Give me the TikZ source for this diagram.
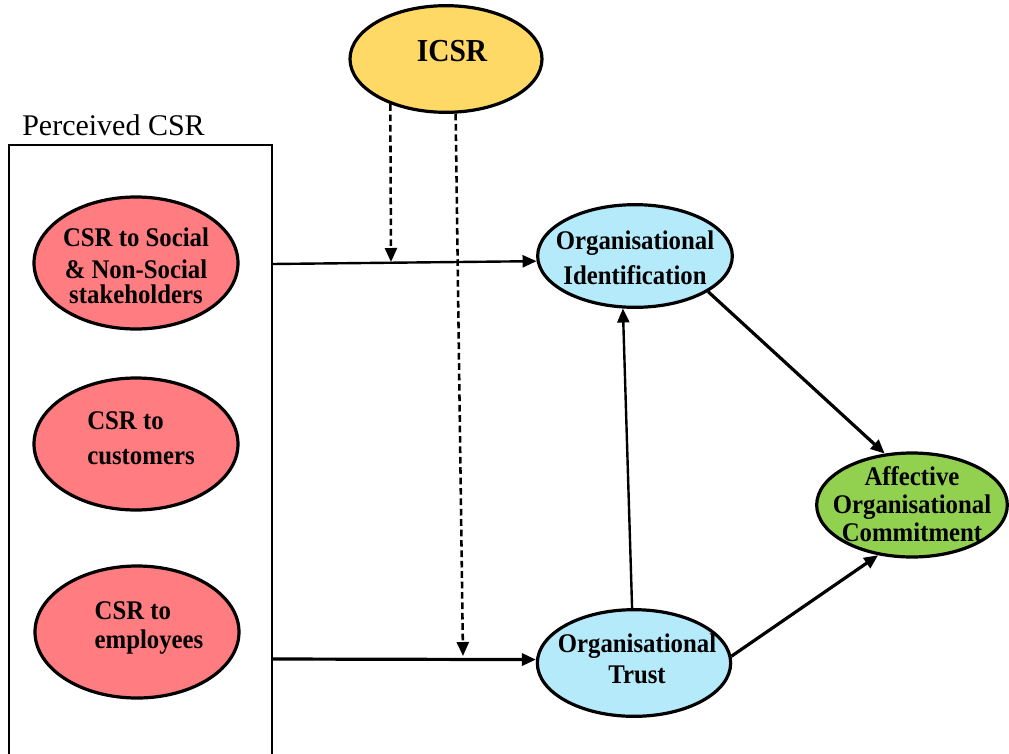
\documentclass[tikz,border=0pt]{standalone}
\usepackage{fontspec}
\setmainfont{Liberation Serif}
\newfontfamily\ovalfont{Liberation Serif}[FakeStretch=0.92]
\usetikzlibrary{arrows.meta,shapes.geometric}
\definecolor{icsrfill}{HTML}{FFD966}
\definecolor{csrfill}{HTML}{FF7C80}
\definecolor{orgfill}{HTML}{B5EAFB}
\definecolor{affill}{HTML}{92D050}
\begin{document}
\begin{tikzpicture}[x=0.75pt,y=-0.75pt,
  oval/.style={ellipse, draw, line width=2.4pt, inner sep=0pt},
  csroval/.style={oval, fill=csrfill, minimum width=153pt, minimum height=99pt},
  orgoval/.style={oval, fill=orgfill},
  lbl/.style={font=\ovalfont\bfseries\fontsize{20.2}{22}\selectfont, align=center, inner sep=0pt},
  link/.style={line width=1.8pt, -{Triangle[length=10.5pt,width=9pt]}},
  thicklink/.style={link, line width=2.4pt},
  modlink/.style={line width=1.9pt, dash pattern=on 5pt off 2.8pt,
                  -{Triangle[length=10.5pt,width=9pt]}},
]
\useasboundingbox (0,0) rectangle (1009,753);

% moderator
\node[oval, fill=icsrfill, minimum width=144pt, minimum height=80pt] (icsr) at (446,59) {};
\node[lbl, font=\ovalfont\bfseries\fontsize{24}{28}\selectfont] (icsr-t) at (452,51) {ICSR};

% perceived CSR group
\node[anchor=base west, inner sep=0pt, font=\fontsize{22.5}{27}\selectfont] (pcsr-t) at (22,135) {Perceived CSR};
\draw[line width=1.5pt] (9,756) -- (9,145) -- (272,145) -- (272,756);
\coordinate (g1) at (272,264);
\coordinate (g2) at (272,659);

\node[csroval] (soc) at (136,263) {};
\node[lbl] (soc-t) at (136,266) {CSR to Social\\[2pt]\& Non-Social\\[-3pt]stakeholders};

\node[csroval] (cus) at (136,444) {};
\node[lbl, align=left] (cus-t) at (141,438) {CSR to\\[4pt]customers};

\node[csroval] (emp) at (137,632) {};
\node[lbl, align=left] (emp-t) at (149,628) {CSR to\\employees};

% mediators and outcome
\node[orgoval, minimum width=146pt, minimum height=77pt] (oi) at (635,256) {};
\node[lbl] (oi-t) at (635,258) {Organisational\\[4pt]Identification};

\node[orgoval, minimum width=145pt, minimum height=80pt] (ot) at (634,663) {};
\node[lbl] (ot-t) at (637,659) {Organisational\\[1pt]Trust};

\node[oval, fill=affill, minimum width=143pt, minimum height=78pt] (ae) at (912,505) {};
\node[lbl] (ae-t) at (912,504) {Affective\\[-1pt]Organisational\\[-1pt]Commitment};

% paths
\draw[link] (g1) -- (oi.-177);
\draw[thicklink] (g2) -- (ot.178);
\draw[link] (ot.92) -- (oi.-103);
\draw[thicklink] (oi.-26) -- (ae.118);
\draw[thicklink] (ot.4) -- (ae.-124);

% moderating effects
\coordinate (m1) at (391,262);
\coordinate (m2) at (463,656);
\draw[modlink] (icsr.-141) -- (m1);
\draw[modlink] (icsr.-80) -- (m2);
\end{tikzpicture}
\end{document}
